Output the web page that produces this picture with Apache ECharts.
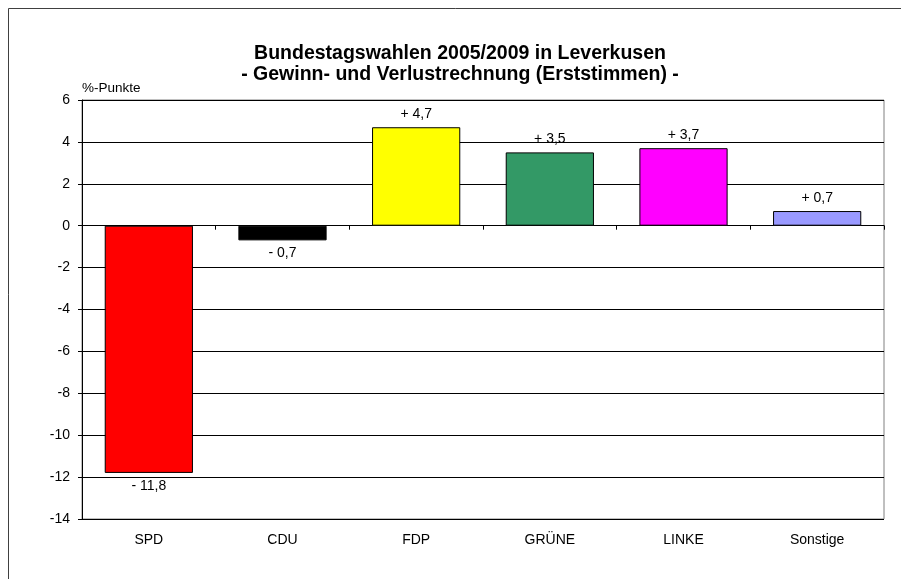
<!DOCTYPE html>
<html>
<head>
<meta charset="utf-8">
<script src="https://cdn.jsdelivr.net/npm/echarts@6/dist/echarts.min.js"></script>
<style>
  html, body { margin: 0; padding: 0; background: #fff; }
  #chart { width: 901px; height: 579px; }
</style>
</head>
<body>
<div id="chart"></div>
<script>
// Parteien und Veränderung der Erststimmen 2005 -> 2009 (%-Punkte)
const parties = ['SPD', 'CDU', 'FDP', 'GRÜNE', 'LINKE', 'Sonstige']
const changes = [-11.8, -0.7, 4.7, 3.5, 3.7, 0.7]
const partyColors = ['#ff0000', '#000000', '#ffff00', '#339966', '#ff00ff', '#9999ff']

const font = 'Liberation Sans, Arial, sans-serif'

const chart = echarts.init(document.getElementById('chart'))

const fmt = (v) => (v > 0 ? '+ ' : '- ') + Math.abs(v).toFixed(1).replace('.', ',')

const option = {
  backgroundColor: '#fff',
  animation: false,
  textStyle: { fontFamily: font },
  title: {
    text: 'Bundestagswahlen 2005/2009 in Leverkusen\n- Gewinn- und Verlustrechnung (Erststimmen) -',
    left: 455,
    top: 38,
    textAlign: 'center',
    textStyle: {
      fontFamily: font,
      fontSize: 19.5,
      fontWeight: 'bold',
      color: '#000',
      lineHeight: 21
    }
  },
  graphic: [
    {
      type: 'rect',
      shape: { x: 8.5, y: 8.5, width: 900, height: 600 },
      style: { fill: 'none', stroke: '#404040', lineWidth: 1 },
      silent: true
    }
  ],
  grid: {
    left: 82,
    right: 17,
    top: 100,
    bottom: 60,
    outerBoundsMode: 'none',
    show: true,
    borderColor: '#808080',
    borderWidth: 1
  },
  xAxis: [
    {
      type: 'category',
      data: parties,
      position: 'bottom',
      axisLine: { onZero: false, show: false },
      axisTick: { show: false },
      axisLabel: { color: '#000', fontSize: 14, fontFamily: font, margin: 14 }
    },
    {
      type: 'category',
      data: parties,
      position: 'bottom',
      axisLine: { onZero: true, lineStyle: { color: '#000', width: 1 } },
      axisTick: { show: true, length: 4, lineStyle: { color: '#000' } },
      axisLabel: { show: false }
    }
  ],
  yAxis: {
    type: 'value',
    min: -14,
    max: 6,
    interval: 2,
    name: '%-Punkte',
    nameLocation: 'end',
    nameGap: 5,
    nameTextStyle: { color: '#000', fontSize: 13.5, fontFamily: font, align: 'left' },
    axisLine: { show: true, lineStyle: { color: '#000', width: 1 } },
    axisTick: { show: true, length: 4, lineStyle: { color: '#000' } },
    axisLabel: { color: '#000', fontSize: 14, fontFamily: font, margin: 12 },
    splitLine: { show: true, lineStyle: { color: '#000', width: 1 } }
  },
  series: [
    {
      type: 'bar',
      xAxisIndex: 0,
      barWidth: '66%',
      data: changes.map((v, i) => ({
        value: v,
        itemStyle: { color: partyColors[i] },
        label: { position: v >= 0 ? 'top' : 'bottom' }
      })),
      itemStyle: { borderColor: '#000', borderWidth: 1 },
      label: {
        show: true,
        distance: 6,
        color: '#000',
        fontSize: 14,
        fontFamily: font,
        formatter: (p) => fmt(p.value)
      }
    }
  ]
}

chart.setOption(option)
</script>
</body>
</html>
